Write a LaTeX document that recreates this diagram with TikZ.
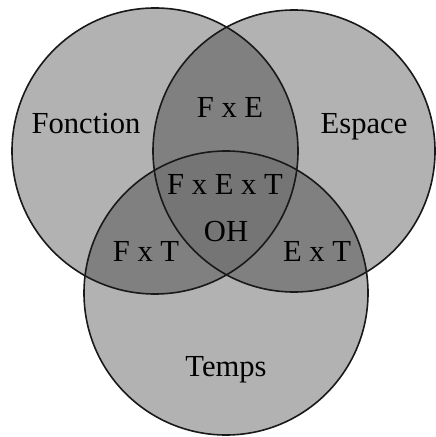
\documentclass[tikz,border=0pt]{standalone}
\usepackage{fontspec}
\setmainfont{Liberation Serif}
\usetikzlibrary{positioning}

\begin{document}
\begin{tikzpicture}[x=0.5pt, y=-0.5pt, semithick]
  % Styles
  \tikzset{setfill/.style={fill=black!30}}
  \tikzset{pairfill/.style={fill=black!50}}
  \tikzset{triplefill/.style={fill=black!54}}
  \tikzset{setline/.style={draw=black!90, line width=0.8pt}}
  \tikzset{label/.style={anchor=base, inner sep=0pt, font=\fontsize{15.3}{18}\selectfont}}

  \useasboundingbox (0,0) rectangle (435,437);

  % --- Centres ---
  \coordinate (Fonction) at (155,151);
  \coordinate (Espace) at (294,151);
  \coordinate (Temps) at (226,293);

  % --- Sets ---
  \fill[setfill] (Fonction) circle (143);
  \fill[setfill] (Espace) circle (141);
  \fill[setfill] (Temps) circle (142);

  % Pairs
  \begin{scope}
    \clip (Fonction) circle (143);
    \fill[pairfill] (Espace) circle (141);
    \fill[pairfill] (Temps) circle (142);
  \end{scope}
  \begin{scope}
    \clip (Espace) circle (141);
    \fill[pairfill] (Temps) circle (142);
  \end{scope}

  % Triple
  \begin{scope}
    \clip (Fonction) circle (143);
    \clip (Espace) circle (141);
    \fill[triplefill] (Temps) circle (142);
  \end{scope}

  % Outlines
  \draw[setline] (Fonction) circle (143);
  \draw[setline] (Espace) circle (141);
  \draw[setline] (Temps) circle (142);

  % --- Labels ---
  \node[label] (lF) at (86,134) {Fonction};
  \node[label] (lE) at (364,134) {Espace};
  \node[label] (lT) at (226,376) {Temps};
  \node[label] (lFE) at (230,118) {F x E};
  \node[label] (lFT) at (146,262) {F x T};
  \node[label] (lET) at (317,262) {E x T};
  \node[label] (lFET) at (225,195) {F x E x T};
  \node[label] (lOH) at (226,242) {OH};
\end{tikzpicture}
\end{document}
